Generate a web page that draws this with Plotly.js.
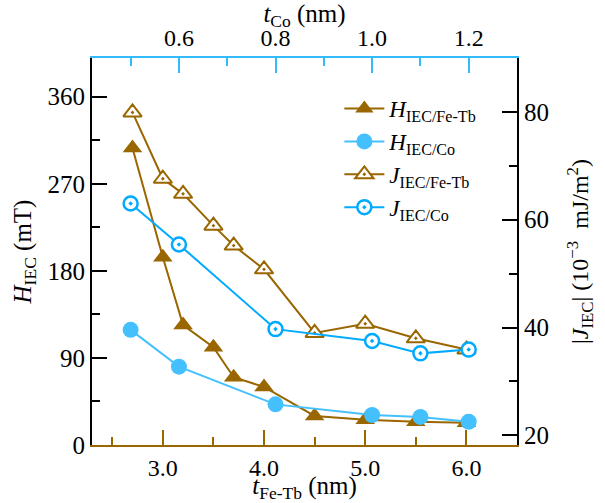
<!DOCTYPE html>
<html><head><meta charset="utf-8">
<script src="https://cdn.plot.ly/plotly-3.0.1.min.js"></script>
<style>html,body{margin:0;padding:0;background:#fff}</style>
</head><body><div id="chart" style="width:605px;height:503px"></div>
<script>
// Data
const tFeTb = [2.7, 3.0, 3.2, 3.5, 3.7, 4.0, 4.5, 5.0, 5.5, 6.0];
const H_FeTb = [307, 194, 124, 101, 70, 60, 30, 26, 24, 23];
const J_FeTb = [79.9, 67.6, 64.8, 58.9, 55.2, 50.8, 39.0, 40.7, 38.0, 35.9];
const tCo = [0.5, 0.6, 0.8, 1.0, 1.1, 1.2];
const H_Co = [119, 81, 42, 31, 29, 24];
const J_Co = [63.0, 55.4, 39.7, 37.5, 35.2, 35.9];

// Tick arrays
const xTicks = [3.0, 4.0, 5.0, 6.0];
const xTickText = ['3.0', '4.0', '5.0', '6.0'];
const xMinor = [2.5, 3.5, 4.5, 5.5];
const x2Ticks = [0.6, 0.8, 1.0, 1.2];
const x2TickText = ['0.6', '0.8', '1.0', '1.2'];
const x2Minor = [0.5, 0.7, 0.9, 1.1];
const yTicks = [0, 90, 180, 270, 360];
const yMinor = [45, 135, 225, 315];
const y2Ticks = [20, 40, 60, 80];
const y2Minor = [30, 50, 70];

const brown = '#996600';
const blueFill = '#44c0ff';
const blueLine = '#00aaff';
const FONT = '"Times New Roman", "Liberation Serif", Tinos, serif';

const traces = [
  {x: tFeTb, y: H_FeTb, xaxis: 'x', yaxis: 'y', mode: 'lines+markers',
   name: '<i>H</i><sub>IEC/Fe-Tb</sub>',
   line: {color: brown, width: 2},
   marker: {symbol: 'triangle-up', size: 17, color: brown}},
  {x: tCo, y: H_Co, xaxis: 'x2', yaxis: 'y', mode: 'lines+markers',
   name: '<i>H</i><sub>IEC/Co</sub>',
   line: {color: blueFill, width: 2},
   marker: {symbol: 'circle', size: 16, color: blueFill}},
  {x: tFeTb, y: J_FeTb, xaxis: 'x', yaxis: 'y2', mode: 'lines+markers',
   name: '<i>J</i><sub>IEC/Fe-Tb</sub>',
   line: {color: brown, width: 2},
   marker: {symbol: 'triangle-up-dot', size: 16, color: 'white', line: {color: brown, width: 2}}},
  {x: tCo, y: J_Co, xaxis: 'x2', yaxis: 'y2', mode: 'lines+markers',
   name: '<i>J</i><sub>IEC/Co</sub>',
   line: {color: blueLine, width: 2},
   marker: {symbol: 'circle-dot', size: 14, color: 'white', line: {color: blueLine, width: 2.5}}}
];

function axisBase(fs) {
  return {showgrid: false, zeroline: false, showline: true, linewidth: 2,
    ticks: 'inside', ticklen: 15, tickwidth: 2,
    tickfont: {family: FONT, size: fs, color: '#000'}};
}

const layout = {
  width: 605, height: 503,
  margin: {l: 92, r: 88, t: 58, b: 58},
  paper_bgcolor: '#fff', plot_bgcolor: '#fff',
  font: {family: FONT, size: 25, color: '#000'},
  showlegend: true,
  legend: {x: 0.582, y: 0.925, xanchor: 'left', yanchor: 'top', bgcolor: 'rgba(0,0,0,0)',
    font: {family: FONT, size: 23, color: '#000'}, itemwidth: 40, tracegroupgap: 0},
  xaxis: Object.assign(axisBase(24), {
    range: [2.3, 6.5], tickvals: xTicks, ticktext: xTickText,
    linecolor: brown, tickcolor: brown,
    minor: {tickvals: xMinor, ticks: 'inside', ticklen: 8, tickwidth: 2, tickcolor: brown},
    title: {text: '<i>t</i><sub>Fe-Tb</sub> (nm)', font: {family: FONT, size: 25, color: '#000'}}
  }),
  xaxis2: Object.assign(axisBase(24), {
    overlaying: 'x', side: 'top', anchor: 'y',
    range: [0.42, 1.30], tickvals: x2Ticks, ticktext: x2TickText,
    linecolor: '#33bbff', tickcolor: '#33bbff',
    minor: {tickvals: x2Minor, ticks: 'inside', ticklen: 8, tickwidth: 2, tickcolor: '#33bbff'},
    title: {text: '<i>t</i><sub>Co</sub> (nm)', font: {family: FONT, size: 25, color: '#000'}}
  }),
  yaxis: Object.assign(axisBase(25), {
    range: [0, 400], tickvals: yTicks, linecolor: '#000', tickcolor: '#000',
    minor: {tickvals: yMinor, ticks: 'inside', ticklen: 8, tickwidth: 2, tickcolor: '#000'},
    title: {text: '<i>H</i><sub>IEC</sub> (mT)', font: {family: FONT, size: 25, color: '#000'}}
  }),
  yaxis2: Object.assign(axisBase(25), {
    overlaying: 'y', side: 'right', anchor: 'x',
    range: [18.2, 90], tickvals: y2Ticks, linecolor: '#000', tickcolor: '#000',
    minor: {tickvals: y2Minor, ticks: 'inside', ticklen: 8, tickwidth: 2, tickcolor: '#000'},
    title: {text: '|<i>J</i><sub>IEC</sub>| (10<sup>−3</sup>  mJ/m<sup>2</sup>)', font: {family: FONT, size: 24, color: '#000'}}
  })
};

Plotly.newPlot('chart', traces, layout, {displayModeBar: false, staticPlot: true});
</script>
</body></html>
